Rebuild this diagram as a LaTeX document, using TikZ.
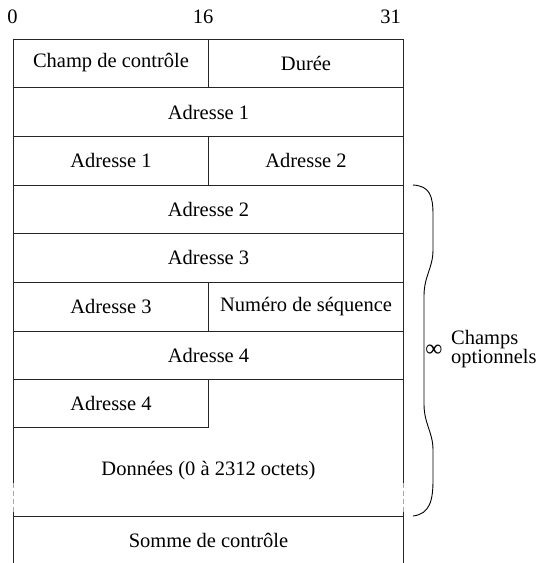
\documentclass[tikz,border=0pt]{standalone}
\usepackage{fontspec}
\setmainfont{Liberation Serif}
\begin{document}
\begin{tikzpicture}[x=1pt,y=-1pt,
  frame/.style={line width=1pt,black!85},
  varpart/.style={line width=0.9pt,black!35,dash pattern=on 5pt off 3pt},
  cell/.style={inner sep=0pt,font=\fontsize{20.5}{24}\selectfont},
  bitnum/.style={inner sep=0pt,font=\fontsize{20.5}{24}\selectfont},
  bracket/.style={line width=0.9pt,black}]
\useasboundingbox (0,0) rectangle (539,563);

% bit numbers
\node[bitnum] (b0)  at (12.5,17) {0};
\node[bitnum] (b16) at (203,17) {16};
\node[bitnum] (b31) at (390.5,17) {31};

% outer sides (open at the bottom), broken where the data field varies
\draw[frame] (13.5,563) -- (13.5,512) (13.5,483) -- (13.5,39) -- (403.5,39) -- (403.5,483) (403.5,512) -- (403.5,563);
\draw[varpart] (13.5,483) -- (13.5,512);
\draw[varpart] (403.5,483) -- (403.5,512);

% row separators
\foreach \y in {87.5,136,185,233,282,331,379,516.5}
  \draw[frame] (13.5,\y) -- (403.5,\y);
\draw[frame] (13.5,427) -- (208.5,427);

% half-width dividers
\draw[frame] (208.5,39) -- (208.5,87.5);
\draw[frame] (208.5,136) -- (208.5,185);
\draw[frame] (208.5,282) -- (208.5,331);
\draw[frame] (208.5,379) -- (208.5,427);

% field names
\node[cell] (ctl)  at (111,63)   {Champ de contrôle};
\node[cell] (dur)  at (306,63)   {Durée};
\node[cell] (a1)   at (208.5,112) {Adresse 1};
\node[cell] (a1b)  at (111,160.5) {Adresse 1};
\node[cell] (a2)   at (306,160.5) {Adresse 2};
\node[cell] (a2b)  at (208.5,209) {Adresse 2};
\node[cell] (a3)   at (208.5,257.5) {Adresse 3};
\node[cell] (a3b)  at (111,306.5) {Adresse 3};
\node[cell] (seq)  at (306,306.5) {Numéro de séquence};
\node[cell] (a4)   at (208.5,355) {Adresse 4};
\node[cell] (a4b)  at (111,403) {Adresse 4};
\node[cell] (data) at (208.5,471) {Données (0 à 2312 octets)};
\node[cell] (fcs)  at (208.5,540) {Somme de contrôle};

% brace over the optional fields
\draw[bracket] (413,185) .. controls (430,186) and (433,196) .. (433,215)
  -- (433,250) .. controls (433,268) and (424,276) .. (424,296)
  -- (424,404) .. controls (424,424) and (433,432) .. (433,450)
  -- (433,480) .. controls (433,500) and (430,514) .. (413,516);
\node[inner sep=0pt,font=\fontsize{24}{24}\selectfont] (tip) at (434,351) {∞};
\node[inner sep=0pt,anchor=west,align=left,font=\fontsize{20.5}{17}\selectfont] (opt) at (451,349) {Champs\\optionnels};
\end{tikzpicture}
\end{document}
